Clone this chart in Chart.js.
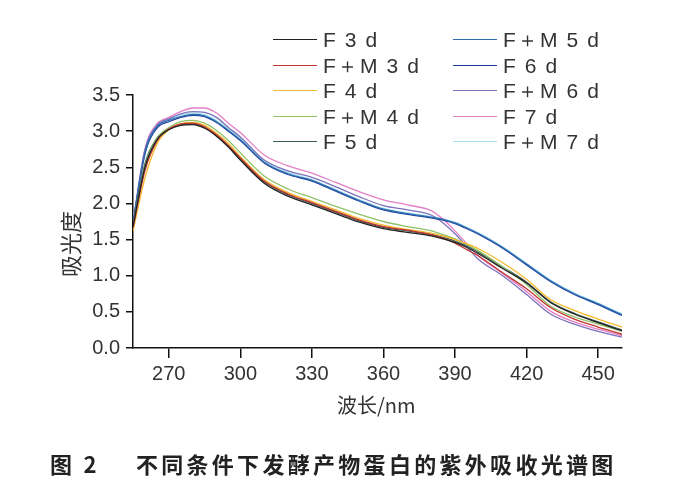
<!DOCTYPE html>
<html>
<head>
<meta charset="utf-8">
<script src="https://cdn.jsdelivr.net/npm/chart.js@4.4.1/dist/chart.umd.min.js"></script>
<style>
  html, body { margin: 0; padding: 0; background: #fff; }
  #wrap { position: relative; width: 673px; height: 485px; overflow: hidden; }
  #chart { position: absolute; left: 0; top: 0; }
  .lg { position: absolute; height: 26px; line-height: 26px; font-family: 'Liberation Sans', Arial, sans-serif;
        font-size: 21px; color: #333; letter-spacing: 1.6px; white-space: nowrap; }
  .lg i { position: absolute; top: 12px; width: 44px; height: 0; border-top: 1.5px solid #000; }
  .lg span { position: absolute; left: 50px; }
  .ttl { position: absolute; font-family: 'Noto Sans CJK SC', 'Liberation Sans', sans-serif; font-size: 20px; color: #333; white-space: nowrap; }
  #cap { position: absolute; left: 50px; top: 447px; font-family: 'Noto Sans CJK SC', sans-serif; font-weight: bold;
         font-size: 22px; color: #222; letter-spacing: 3.3px; white-space: nowrap; }
</style>
</head>
<body>
<div id="wrap">
  <canvas id="chart" width="673" height="485"></canvas>
  <div id="legend"></div>
  <div class="ttl" style="left:337px; top:390px;">波长/nm</div>
  <div class="ttl" style="left:36px; top:230px; font-size:22px; transform: rotate(-90deg); transform-origin: 32px 15px; width:66px;">吸光度</div>
  <div id="cap">图 2<span style="display:inline-block;width:36px"></span>不同条件下发酵产物蛋白的紫外吸收光谱图</div>
</div>
<script>
// 波长 (nm)
const wavelengths = [255, 260, 265, 270, 275, 280, 285, 290, 295, 300, 310, 320, 330, 340, 350, 360, 370, 380, 385, 390, 395, 400, 410, 420, 430, 440, 450, 460];
const xTicks = [270, 300, 330, 360, 390, 420, 450];
const yTicks = [0, 0.5, 1.0, 1.5, 2.0, 2.5, 3.0, 3.5];

const seriesNames = ['F 3 d', 'F＋M 3 d', 'F 4 d', 'F＋M 4 d', 'F 5 d', 'F＋M 5 d', 'F 6 d', 'F＋M 6 d', 'F 7 d', 'F＋M 7 d'];
const seriesColors = ['#222222', '#c0352e', '#f6b92e', '#8fc06a', '#3c5c56', '#2f6cae', '#1f3d9c', '#7c72bc', '#e37ec4', '#a8e2f2'];

const f3d   = [1.68, 2.50, 2.88, 3.02, 3.08, 3.09, 3.04, 2.93, 2.78, 2.60, 2.28, 2.10, 1.98, 1.86, 1.74, 1.65, 1.60, 1.55, 1.51, 1.46, 1.39, 1.30, 1.10, 0.90, 0.63, 0.47, 0.35, 0.24];
const fm3d  = [1.66, 2.45, 2.86, 3.03, 3.10, 3.11, 3.06, 2.95, 2.80, 2.63, 2.31, 2.13, 2.01, 1.89, 1.77, 1.68, 1.63, 1.57, 1.52, 1.45, 1.36, 1.27, 1.04, 0.82, 0.56, 0.40, 0.29, 0.19];
const f4d   = [1.62, 2.35, 2.82, 3.02, 3.10, 3.12, 3.08, 2.97, 2.83, 2.65, 2.33, 2.15, 2.03, 1.91, 1.79, 1.70, 1.64, 1.59, 1.55, 1.50, 1.44, 1.37, 1.18, 0.95, 0.67, 0.52, 0.40, 0.29];
const fm4d  = [1.68, 2.52, 2.90, 3.05, 3.13, 3.15, 3.11, 3.01, 2.87, 2.70, 2.38, 2.20, 2.08, 1.96, 1.85, 1.75, 1.68, 1.62, 1.57, 1.51, 1.43, 1.34, 1.12, 0.88, 0.58, 0.43, 0.33, 0.23];
const f5d   = [1.70, 2.55, 2.90, 3.03, 3.09, 3.10, 3.05, 2.94, 2.80, 2.62, 2.30, 2.12, 2.00, 1.88, 1.76, 1.67, 1.62, 1.57, 1.53, 1.48, 1.41, 1.32, 1.12, 0.91, 0.64, 0.48, 0.36, 0.25];
const fm5d  = [1.73, 2.70, 3.06, 3.15, 3.20, 3.23, 3.21, 3.13, 3.01, 2.88, 2.57, 2.41, 2.32, 2.18, 2.04, 1.92, 1.86, 1.81, 1.78, 1.73, 1.66, 1.58, 1.39, 1.16, 0.93, 0.75, 0.61, 0.46];
const f6d   = [1.72, 2.68, 3.04, 3.13, 3.19, 3.22, 3.20, 3.12, 3.00, 2.87, 2.56, 2.40, 2.31, 2.17, 2.03, 1.91, 1.85, 1.80, 1.77, 1.72, 1.65, 1.57, 1.38, 1.15, 0.92, 0.74, 0.60, 0.45];
const fm6d  = [1.74, 2.74, 3.08, 3.17, 3.24, 3.27, 3.26, 3.19, 3.05, 2.92, 2.60, 2.45, 2.36, 2.23, 2.09, 1.97, 1.91, 1.84, 1.73, 1.58, 1.40, 1.22, 1.00, 0.74, 0.47, 0.33, 0.23, 0.15];
const f7d   = [1.72, 2.75, 3.10, 3.19, 3.27, 3.32, 3.32, 3.25, 3.11, 2.98, 2.67, 2.52, 2.42, 2.29, 2.16, 2.05, 1.98, 1.90, 1.78, 1.62, 1.44, 1.27, 1.03, 0.78, 0.51, 0.36, 0.26, 0.17];
const fm7d  = [1.74, 2.72, 3.07, 3.16, 3.22, 3.25, 3.23, 3.15, 3.03, 2.90, 2.59, 2.43, 2.33, 2.19, 2.05, 1.93, 1.87, 1.82, 1.79, 1.74, 1.67, 1.59, 1.40, 1.17, 0.94, 0.76, 0.62, 0.47];

const allSeries = [f3d, fm3d, f4d, fm4d, f5d, fm5d, f6d, fm6d, f7d, fm7d];

// legenda em HTML (duas colunas)
const legend = document.getElementById('legend');
seriesNames.forEach((name, i) => {
    const col = i < 5 ? 0 : 1;
    const row = i % 5;
    const d = document.createElement('div');
    d.className = 'lg';
    d.style.left = (col ? 453 : 273) + 'px';
    d.style.top = (27 + row * 25.5) + 'px';
    d.innerHTML = '<i style="border-color:' + seriesColors[i] + '"></i><span>' + name + '</span>';
    legend.appendChild(d);
});

const datasets = allSeries.map((vals, i) => ({
    label: seriesNames[i],
    data: wavelengths.map((w, j) => ({ x: w, y: vals[j] })),
    borderColor: seriesColors[i],
    borderWidth: 1.3,
    pointRadius: 0,
    fill: false,
    cubicInterpolationMode: 'monotone'
}));

const tickFont = { family: "'Liberation Sans', Arial, sans-serif", size: 20 };

new Chart(document.getElementById('chart').getContext('2d'), {
    type: 'line',
    data: { datasets: datasets },
    options: {
        responsive: false,
        animation: false,
        layout: { padding: { top: 95, right: 51, bottom: 0, left: 0 } },
        plugins: { legend: { display: false }, tooltip: { enabled: false } },
        scales: {
            x: {
                type: 'linear',
                min: 255,
                max: 460,
                afterBuildTicks: s => { s.ticks = xTicks.map(v => ({ value: v })); },
                afterFit: s => { s.height = 137; },
                ticks: { font: tickFont, color: '#333', padding: 4, maxRotation: 0 },
                grid: { display: true, drawOnChartArea: false, drawTicks: true, tickLength: 10, color: '#111', lineWidth: 1.5 },
                border: { display: true, color: '#111', width: 1.5 }
            },
            y: {
                min: 0,
                max: 3.5,
                afterBuildTicks: s => { s.ticks = yTicks.map(v => ({ value: v })); },
                afterFit: s => { s.width = 133; },
                ticks: { font: tickFont, color: '#333', padding: 6, callback: v => v.toFixed(1) },
                grid: { display: true, drawOnChartArea: false, drawTicks: true, tickLength: 7, color: '#111', lineWidth: 1.5 },
                border: { display: true, color: '#111', width: 1.5 }
            }
        }
    }
});
</script>
</body>
</html>
